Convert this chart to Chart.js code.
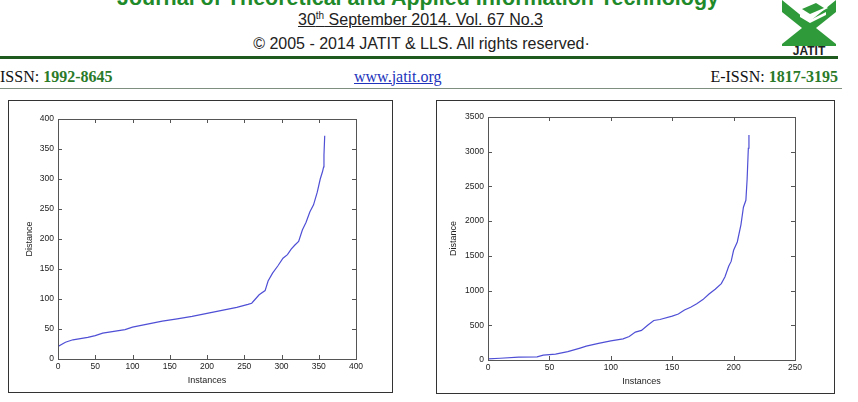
<!DOCTYPE html>
<html>
<head>
<meta charset="utf-8">
<script src="https://cdn.jsdelivr.net/npm/chart.js@4.4.1/dist/chart.umd.min.js"></script>
<style>
  html, body { margin: 0; padding: 0; background: #fff; }
  body { width: 858px; height: 402px; position: relative; overflow: hidden; font-family: "Liberation Sans", Arial, sans-serif; }
  .abs { position: absolute; white-space: nowrap; line-height: 1; }
  .title { left: 0; width: 836px; text-align: center; top: -12px; font-size: 21.5px; font-weight: bold; color: #1f8a2a; }
  .date { left: 0; width: 841px; text-align: center; top: 11.5px; font-size: 16px; color: #222; }
  .date span.u { text-decoration: underline; }
  .date sup { font-size: 10px; line-height: 0; }
  .copy { left: 0; width: 843px; text-align: center; top: 35.5px; font-size: 16px; color: #222; }
  .gline { left: 0; top: 56px; width: 838px; height: 3px; background: #1e5a1e; }
  .issn { top: 68.5px; font-family: "Liberation Serif", "Times New Roman", serif; font-size: 16px; color: #111; }
  .issn b { color: #2a7a2a; }
  .site { left: 354px; top: 68.5px; font-family: "Liberation Serif", serif; font-size: 16px; color: #2233bb; text-decoration: underline; }
  .grayline { left: 0; top: 88px; width: 842px; height: 1px; background: #7f8f7f; }
  .box { border: 1.5px solid #333; box-sizing: border-box; }
  canvas { position: absolute; }
</style>
</head>
<body>
<div class="abs title">Journal of Theoretical and Applied Information Technology</div>
<div class="abs date"><span class="u">30<sup>th</sup> September 2014. Vol. 67 No.3</span></div>
<div class="abs copy">© 2005 - 2014 JATIT &amp; LLS. All rights reserved·</div>
<div class="abs gline"></div>
<svg class="abs" style="left:776px;top:0px" width="66" height="56" viewBox="0 0 66 56">
  <polygon points="6,0 33,22 60,0 60,12 40,28 60,44 60,46 6,46 6,44 26,28 6,12" fill="#2f9a3a"/>
  <polygon points="22,8 40,0 52,8 34,17" fill="#fff"/>
  <polygon points="26,9 40,3 48,8 34,14" fill="#2f9a3a"/>
  <polygon points="24,14 34,20 50,12 50,15 34,23 24,17" fill="#fff"/>
  <text x="33" y="55" text-anchor="middle" font-family="Liberation Sans, Arial" font-weight="bold" font-size="12" fill="#222">JATIT</text>
</svg>
<div class="abs issn" style="left:0">ISSN: <b>1992-8645</b></div>
<div class="abs site">www.jatit.org</div>
<div class="abs issn" style="right:20px">E-ISSN: <b>1817-3195</b></div>
<div class="abs grayline"></div>

<div class="abs box" style="left:8px;top:100px;width:385px;height:293px"></div>
<div class="abs box" style="left:436px;top:100px;width:399px;height:294px"></div>
<canvas id="c1" width="384" height="292" style="left:8px;top:100px"></canvas>
<canvas id="c2" width="398" height="293" style="left:436px;top:100px"></canvas>

<script>
// left figure: sorted k-distance, data set 1
var xs1 = [0, 10, 20, 30, 40, 50, 60, 75, 90, 100, 120, 140, 160, 180, 200, 220, 240, 255, 260, 265, 270, 278, 282, 288, 295, 302, 308, 313, 318, 323, 328, 333, 338, 343, 348, 352, 355, 356.5, 357, 358];
var ys1 = [21, 28, 32, 34, 36, 39, 43, 46, 49, 53, 58, 63, 67, 71, 76, 81, 86, 91, 93, 100, 107, 114, 130, 143, 155, 168, 174, 183, 190, 196, 215, 228, 245, 257, 278, 300, 312, 320, 340, 372];
// right figure: data set 2
var xs2 = [0, 10, 25, 40, 45, 55, 65, 75, 80, 90, 100, 110, 115, 120, 125, 130, 135, 140, 150, 155, 160, 165, 170, 175, 180, 185, 190, 193, 196, 198, 200, 203, 206, 208, 210, 211, 212, 212.5];
var ys2 = [15, 25, 40, 45, 70, 85, 120, 172, 200, 240, 275, 304, 338, 402, 426, 500, 569, 583, 632, 662, 720, 760, 810, 870, 950, 1020, 1100, 1200, 1350, 1420, 1580, 1700, 1950, 2200, 2300, 2600, 3050, 3240];

var xTicks1 = [0, 50, 100, 150, 200, 250, 300, 350, 400];
var yTicks1 = [0, 50, 100, 150, 200, 250, 300, 350, 400];
var xTicks2 = [0, 50, 100, 150, 200, 250];
var yTicks2 = [0, 500, 1000, 1500, 2000, 2500, 3000, 3500];

function pts(xs, ys) {
  return xs.map(function(x, i) { return { x: x, y: ys[i] }; });
}

// matlab style box with inward ticks on all four sides
var framePlugin = {
  id: 'frame',
  afterDraw: function(chart) {
    var ctx = chart.ctx, a = chart.chartArea;
    var sx = chart.scales.x, sy = chart.scales.y;
    ctx.save();
    ctx.strokeStyle = '#555';
    ctx.lineWidth = 1;
    ctx.strokeRect(Math.round(a.left) + 0.5, Math.round(a.top) + 0.5, Math.round(a.right - a.left), Math.round(a.bottom - a.top));
    ctx.beginPath();
    sx.ticks.forEach(function(t) {
      var px = Math.round(sx.getPixelForValue(t.value)) + 0.5;
      ctx.moveTo(px, a.bottom); ctx.lineTo(px, a.bottom - 4);
      ctx.moveTo(px, a.top); ctx.lineTo(px, a.top + 4);
    });
    sy.ticks.forEach(function(t) {
      var py = Math.round(sy.getPixelForValue(t.value)) + 0.5;
      ctx.moveTo(a.left, py); ctx.lineTo(a.left + 4, py);
      ctx.moveTo(a.right, py); ctx.lineTo(a.right - 4, py);
    });
    ctx.stroke();
    ctx.restore();
  }
};

function plain(v) { return String(v); }

function makeChart(id, xs, ys, xTicks, yTicks, pad, yW) {
  var tickFont = { family: '"Liberation Sans", Arial, sans-serif', size: 8.5 };
  var titleFont = { family: '"Liberation Sans", Arial, sans-serif', size: 9 };
  return new Chart(document.getElementById(id), {
    type: 'scatter',
    data: {
      datasets: [{
        data: pts(xs, ys),
        showLine: true,
        borderColor: '#4f4fd6',
        borderWidth: 1.2,
        pointRadius: 0,
        tension: 0
      }]
    },
    options: {
      responsive: false,
      animation: false,
      devicePixelRatio: 1,
      layout: { padding: { left: 0, top: pad.top, right: pad.right, bottom: 0 } },
      plugins: { legend: { display: false }, tooltip: { enabled: false } },
      scales: {
        x: {
          type: 'linear', min: xTicks[0], max: xTicks[xTicks.length - 1],
          afterBuildTicks: function(s) { s.ticks = xTicks.map(function(v) { return { value: v }; }); },
          afterFit: function(s) { s.height = 33; },
          grid: { display: false, drawTicks: false, tickLength: 0 }, border: { display: false },
          ticks: { color: '#222', font: tickFont, padding: 3, autoSkip: false, maxRotation: 0, callback: plain },
          title: { display: true, text: 'Instances', color: '#222', font: titleFont, padding: { top: 0, bottom: 6 } }
        },
        y: {
          type: 'linear', min: yTicks[0], max: yTicks[yTicks.length - 1],
          afterBuildTicks: function(s) { s.ticks = yTicks.map(function(v) { return { value: v }; }); },
          afterFit: function(s) { s.width = yW; },
          grid: { display: false, drawTicks: false, tickLength: 0 }, border: { display: false },
          ticks: { color: '#222', font: tickFont, padding: 4, autoSkip: false, callback: plain },
          title: { display: true, text: 'Distance', color: '#222', font: titleFont, padding: { top: pad.titleX, bottom: 0 } }
        }
      }
    },
    plugins: [framePlugin]
  });
}

makeChart('c1', xs1, ys1, xTicks1, yTicks1, { top: 19, right: 36, titleX: 16 }, 50);
makeChart('c2', xs2, ys2, xTicks2, yTicks2, { top: 17, right: 39, titleX: 12 }, 52);
</script>
</body>
</html>
